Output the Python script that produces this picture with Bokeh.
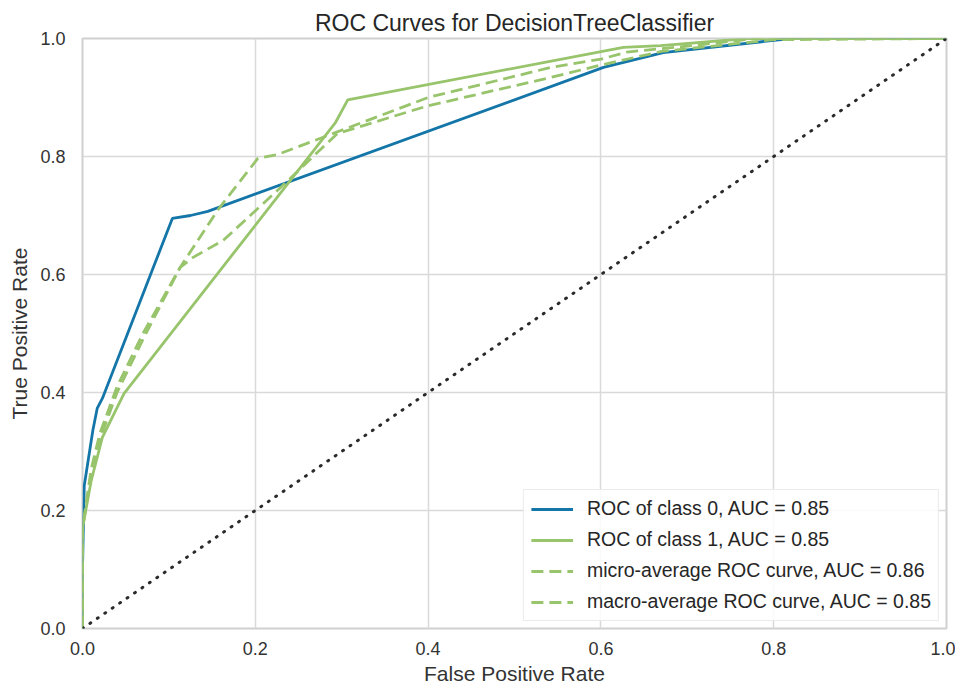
from bokeh.plotting import figure
from bokeh.models import Range1d, FixedTicker, Legend, LegendItem, NumeralTickFormatter
from bokeh.embed import file_html
from bokeh.resources import INLINE

title = "ROC Curves for DecisionTreeClassifier"

class0_fpr = [0.0, 0.0, 0.002, 0.012, 0.017, 0.023, 0.104, 0.125, 0.145, 0.603, 0.672, 0.82, 1.0]
class0_tpr = [0.0, 0.10, 0.242, 0.336, 0.373, 0.39, 0.695, 0.70, 0.707, 0.951, 0.976, 1.0, 1.0]

class1_fpr = [0.0, 0.0, 0.01, 0.023, 0.048, 0.293, 0.307, 0.626, 0.669, 0.77, 1.0]
class1_tpr = [0.0, 0.17, 0.25, 0.324, 0.398, 0.858, 0.896, 0.985, 0.988, 1.0, 1.0]

micro_fpr = [0.0, 0.0, 0.01, 0.02, 0.04, 0.07, 0.113, 0.156, 0.203, 0.225, 0.299, 0.40, 0.542, 0.60, 0.63, 0.70, 0.78, 1.0]
micro_tpr = [0.0, 0.17, 0.27, 0.33, 0.41, 0.50, 0.612, 0.708, 0.797, 0.803, 0.844, 0.90, 0.951, 0.965, 0.977, 0.987, 1.0, 1.0]

macro_fpr = [0.0, 0.0, 0.01, 0.02, 0.04, 0.07, 0.113, 0.128, 0.163, 0.229, 0.295, 0.40, 0.542, 0.60, 0.67, 0.80, 1.0]
macro_tpr = [0.0, 0.17, 0.26, 0.32, 0.40, 0.49, 0.612, 0.629, 0.658, 0.747, 0.839, 0.886, 0.934, 0.955, 0.978, 0.998, 1.0]

labels = [
    "ROC of class 0, AUC = 0.85",
    "ROC of class 1, AUC = 0.85",
    "micro-average ROC curve, AUC = 0.86",
    "macro-average ROC curve, AUC = 0.85",
]

diag = [0.0, 1.0]
ticks = [0.0, 0.2, 0.4, 0.6, 0.8, 1.0]

BLUE = "#1476a8"
GREEN = "#98c46c"
FONT = "Liberation Sans"

p = figure(
    output_backend="svg", toolbar_location=None,
    frame_width=864, frame_height=590,
    x_range=Range1d(0, 1), y_range=Range1d(0, 1),
    min_border_left=82, min_border_right=9, min_border_top=38, min_border_bottom=55,
    title=title,
)
p.background_fill_color = "white"
p.border_fill_color = "white"
p.outline_line_color = "#d0d0d0"
p.outline_line_width = 2

p.title.align = "center"
p.title.text_font = FONT
p.title.text_font_size = "23px"
p.title.text_font_style = "normal"
p.title.text_color = "#262626"
p.title.standoff = 5

for ax in (p.xaxis[0], p.yaxis[0]):
    ax.ticker = FixedTicker(ticks=ticks)
    ax.formatter = NumeralTickFormatter(format="0.0")
    ax.axis_line_color = None
    ax.major_tick_line_color = None
    ax.minor_tick_line_color = None
    ax.major_label_text_font = FONT
    ax.major_label_text_font_size = "18px"
    ax.major_label_text_color = "#333333"
    ax.axis_label_text_font = FONT
    ax.axis_label_text_font_size = "21px"
    ax.axis_label_text_font_style = "normal"
    ax.axis_label_text_color = "#333333"

p.xaxis.axis_label = "False Positive Rate"
p.yaxis.axis_label = "True Positive Rate"
p.xaxis.major_label_standoff = 7
p.yaxis.major_label_standoff = 11
p.xaxis.axis_label_standoff = 4
p.yaxis.axis_label_standoff = 6

for g in (p.xgrid[0], p.ygrid[0]):
    g.ticker = FixedTicker(ticks=ticks)
    g.grid_line_color = "#d9d9d9"
    g.grid_line_width = 1.5

r0 = p.line(class0_fpr, class0_tpr, line_color=BLUE, line_width=2.8)
r1 = p.line(class1_fpr, class1_tpr, line_color=GREEN, line_width=2.8)
r2 = p.line(micro_fpr, micro_tpr, line_color=GREEN, line_width=2.8, line_dash="12 6")
r3 = p.line(macro_fpr, macro_tpr, line_color=GREEN, line_width=2.8, line_dash="12 6")
p.line(diag, diag, line_color="#2a2a2a", line_width=3, line_dash="1 8", line_cap="round")

legend = Legend(
    items=[LegendItem(label=l, renderers=[r]) for l, r in zip(labels, [r0, r1, r2, r3])],
    location="bottom_right",
)
legend.label_text_font = FONT
legend.label_text_font_size = "19.5px"
legend.label_text_color = "#262626"
legend.glyph_width = 42
legend.glyph_height = 22
legend.spacing = 8
legend.padding = 7
legend.margin = 7
legend.border_line_color = "#d8d8d8"
legend.border_line_width = 1
legend.background_fill_alpha = 0.85
legend.label_standoff = 14
p.add_layout(legend)

open("out.html", "w").write(file_html(p, INLINE))
